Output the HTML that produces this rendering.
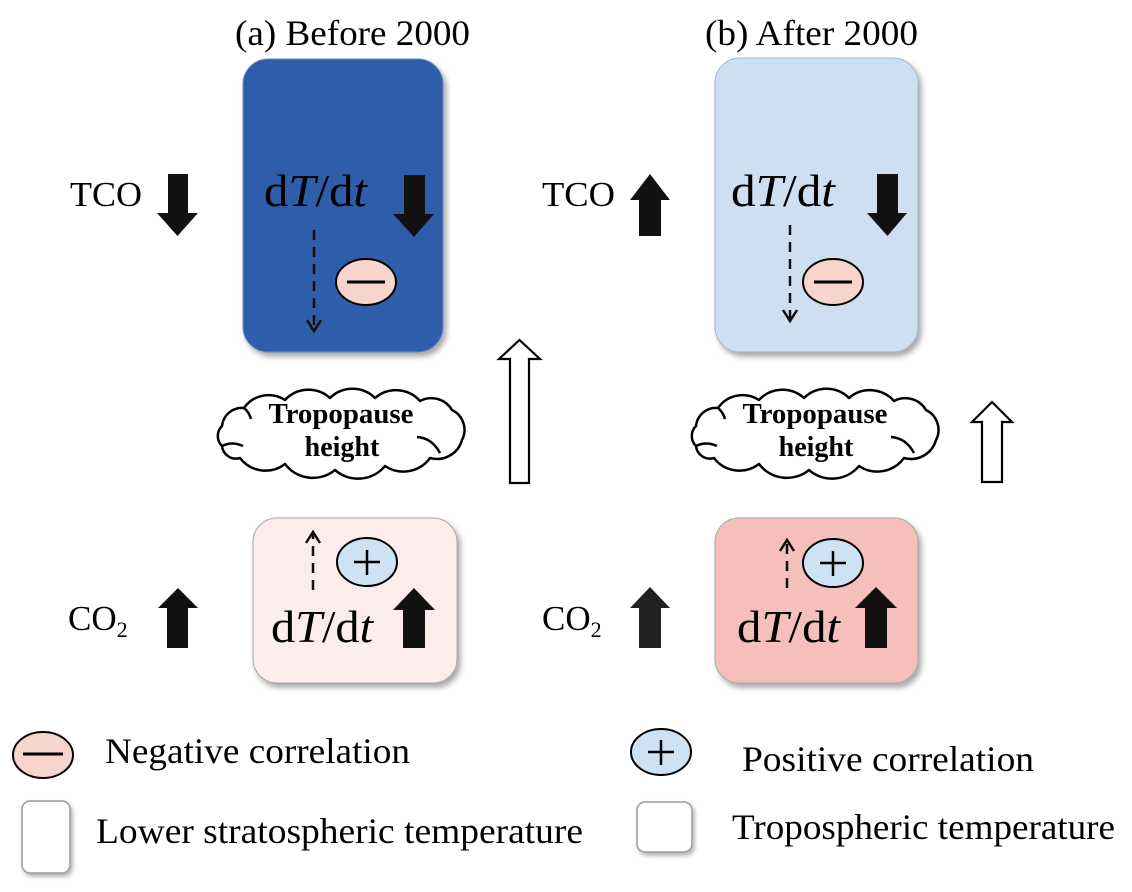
<!DOCTYPE html>
<html>
<head>
<meta charset="utf-8">
<style>
html,body{margin:0;padding:0;background:#fff;}
svg{display:block;}
text{font-family:"Liberation Serif","Times New Roman",serif;fill:#000;}
</style>
</head>
<body>
<svg width="1132" height="892" viewBox="0 0 1132 892" xmlns="http://www.w3.org/2000/svg">
<defs>
  <filter id="sh" x="-20%" y="-20%" width="140%" height="140%">
    <feDropShadow dx="3" dy="4" stdDeviation="3" flood-color="#000" flood-opacity="0.35"/>
  </filter>
  <filter id="sh2" x="-30%" y="-30%" width="160%" height="160%">
    <feDropShadow dx="2" dy="3" stdDeviation="2" flood-color="#000" flood-opacity="0.3"/>
  </filter>
  <g id="cloud">
    <path d="M222 426 A20 20 0 0 1 244 408 A30 30 0 0 1 285 400 A32 32 0 0 1 330 398 A32 32 0 0 1 375 398 A32 32 0 0 1 420 401 A24 24 0 0 1 452 410 A22 22 0 0 1 462 440 A26 26 0 0 1 430 458 A33 33 0 0 1 385 466 A35 35 0 0 1 335 470 A35 35 0 0 1 285 464 A32 32 0 0 1 240 458 A14 14 0 0 1 222 446 A14 14 0 0 1 222 426 Z" fill="#fff" stroke="#000" stroke-width="2.5" stroke-linejoin="round"/>
    <path d="M417 437 Q432 438 440 453" fill="none" stroke="#000" stroke-width="2.5"/>
    <path d="M222 446 Q232 441 243 446" fill="none" stroke="#000" stroke-width="2.5"/>
    <path d="M244 408 Q249 412 251 419" fill="none" stroke="#000" stroke-width="2.5"/>
  </g>
</defs>

<!-- Titles -->
<text x="235" y="45" font-size="36" textLength="235" lengthAdjust="spacingAndGlyphs">(a) Before 2000</text>
<text x="705" y="45" font-size="36" textLength="213" lengthAdjust="spacingAndGlyphs">(b) After 2000</text>

<!-- Upper boxes -->
<rect x="243" y="59" width="200" height="293" rx="25" ry="25" fill="#2E5DA9" stroke="#6F8FC4" stroke-width="1" filter="url(#sh)"/>
<rect x="715" y="58" width="203" height="294" rx="25" ry="25" fill="#CFDFF2" stroke="#A9B4C2" stroke-width="1" filter="url(#sh)"/>

<!-- Lower boxes -->
<rect x="253" y="518" width="204" height="165" rx="24" ry="24" fill="#FCEDEC" stroke="#A8A8A8" stroke-width="1" filter="url(#sh)"/>
<rect x="715" y="518" width="203" height="165" rx="24" ry="24" fill="#F5C0BB" stroke="#A8A8A8" stroke-width="1" filter="url(#sh)"/>

<!-- TCO labels -->
<text x="70" y="206" font-size="35" textLength="72" lengthAdjust="spacingAndGlyphs">TCO</text>
<text x="542" y="206" font-size="35" textLength="73" lengthAdjust="spacingAndGlyphs">TCO</text>

<!-- TCO arrows -->
<path d="M168 174 H188 V213 H198 L177.5 236 L157 213 H168 Z" fill="#111"/>
<path d="M650 174 L670 200 H661 V236 H639 V200 H630 Z" fill="#111"/>

<!-- dT/dt upper -->
<text x="264" y="206" font-size="46" textLength="103" lengthAdjust="spacingAndGlyphs">d<tspan font-style="italic">T</tspan>/d<tspan font-style="italic">t</tspan></text>
<text x="731" y="206" font-size="46" textLength="104" lengthAdjust="spacingAndGlyphs">d<tspan font-style="italic">T</tspan>/d<tspan font-style="italic">t</tspan></text>

<!-- arrows inside upper boxes -->
<path d="M404 175 H425 V214 H434 L414 237 L393 214 H404 Z" fill="#111"/>
<path d="M877 174 H898 V213 H907 L887.5 236 L867 213 H877 Z" fill="#111"/>

<!-- dashed arrows upper -->
<g stroke="#111" stroke-width="2.5" fill="none">
  <line x1="314" y1="230" x2="314" y2="330" stroke-dasharray="10 7"/>
  <polyline points="307,320 314,331 321,320"/>
  <line x1="790" y1="225" x2="790" y2="320" stroke-dasharray="10 7"/>
  <polyline points="783,310 790,321 797,310"/>
</g>

<!-- minus ellipses -->
<ellipse cx="366" cy="282" rx="30" ry="23" fill="#F8D5CC" stroke="#000" stroke-width="2"/>
<line x1="347" y1="282" x2="385" y2="282" stroke="#000" stroke-width="3"/>
<ellipse cx="833" cy="282" rx="30" ry="23" fill="#F8D5CC" stroke="#000" stroke-width="2"/>
<line x1="814" y1="282" x2="852" y2="282" stroke="#000" stroke-width="3"/>

<!-- hollow arrows -->
<path d="M519.5 340 L540 359 H529 V483 H510 V359 H499 Z" fill="#fff" stroke="#000" stroke-width="2.2" stroke-linejoin="miter"/>
<path d="M992 402 L1012 422 H1002 V482 H982 V422 H972 Z" fill="#fff" stroke="#000" stroke-width="2.2" stroke-linejoin="miter"/>

<!-- clouds -->
<use href="#cloud"/>
<use href="#cloud" transform="translate(474,0)"/>
<g font-weight="bold" font-size="28" text-anchor="middle">
  <text x="341" y="423" textLength="145" lengthAdjust="spacingAndGlyphs">Tropopause</text>
  <text x="342" y="456">height</text>
  <text x="815" y="423" textLength="145" lengthAdjust="spacingAndGlyphs">Tropopause</text>
  <text x="816" y="456">height</text>
</g>

<!-- CO2 labels -->
<text x="68" y="630" font-size="35">CO<tspan font-size="22" dy="7">2</tspan></text>
<text x="542" y="630" font-size="35">CO<tspan font-size="22" dy="7">2</tspan></text>

<!-- CO2 arrows -->
<path d="M178 588 L198 608 H188 V648 H167 V608 H158 Z" fill="#111"/>
<path d="M650 587 L670 608 H661 V648 H639 V608 H630 Z" fill="#222"/>

<!-- dT/dt lower -->
<text x="271" y="642" font-size="46" textLength="102" lengthAdjust="spacingAndGlyphs">d<tspan font-style="italic">T</tspan>/d<tspan font-style="italic">t</tspan></text>
<text x="737" y="642" font-size="46" textLength="103" lengthAdjust="spacingAndGlyphs">d<tspan font-style="italic">T</tspan>/d<tspan font-style="italic">t</tspan></text>

<!-- arrows inside lower boxes -->
<path d="M414 588 L435 610 H425 V648 H403 V610 H393 Z" fill="#111"/>
<path d="M876 587 L897 608 H887 V648 H865 V608 H855 Z" fill="#111"/>

<!-- dashed arrows lower -->
<g stroke="#111" stroke-width="2.5" fill="none">
  <line x1="313" y1="590" x2="313" y2="534" stroke-dasharray="10 7"/>
  <polyline points="306,543 313,532 320,543"/>
  <line x1="787" y1="588" x2="787" y2="542" stroke-dasharray="10 7"/>
  <polyline points="780,551 787,540 794,551"/>
</g>

<!-- plus ellipses -->
<ellipse cx="367" cy="562" rx="30" ry="24" fill="#CFE2F3" stroke="#000" stroke-width="2"/>
<path d="M354 562 H380 M367 550 V575" stroke="#000" stroke-width="2.5"/>
<ellipse cx="833" cy="563" rx="30" ry="24" fill="#CFE2F3" stroke="#000" stroke-width="2"/>
<path d="M820 563 H846 M833 551 V576" stroke="#000" stroke-width="2.5"/>

<!-- Legend -->
<ellipse cx="43" cy="755" rx="30" ry="23" fill="#F8D5CC" stroke="#000" stroke-width="2"/>
<line x1="23" y1="754" x2="63" y2="754" stroke="#000" stroke-width="3"/>
<text x="105" y="763" font-size="36" textLength="305" lengthAdjust="spacingAndGlyphs">Negative correlation</text>

<ellipse cx="661" cy="752" rx="30" ry="23" fill="#CFE2F3" stroke="#000" stroke-width="2"/>
<path d="M648 752 H674 M661 740 V765" stroke="#000" stroke-width="2.5"/>
<text x="742" y="771" font-size="36" textLength="292" lengthAdjust="spacingAndGlyphs">Positive correlation</text>

<rect x="22" y="801" width="48" height="72" rx="8" ry="8" fill="#fff" stroke="#9A9A9A" stroke-width="1.5" filter="url(#sh2)"/>
<text x="96" y="843" font-size="36" textLength="487" lengthAdjust="spacingAndGlyphs">Lower stratospheric temperature</text>

<rect x="637" y="802" width="55" height="50" rx="8" ry="8" fill="#fff" stroke="#9A9A9A" stroke-width="1.5" filter="url(#sh2)"/>
<text x="732" y="839" font-size="36" textLength="383" lengthAdjust="spacingAndGlyphs">Tropospheric temperature</text>
</svg>
</body>
</html>
